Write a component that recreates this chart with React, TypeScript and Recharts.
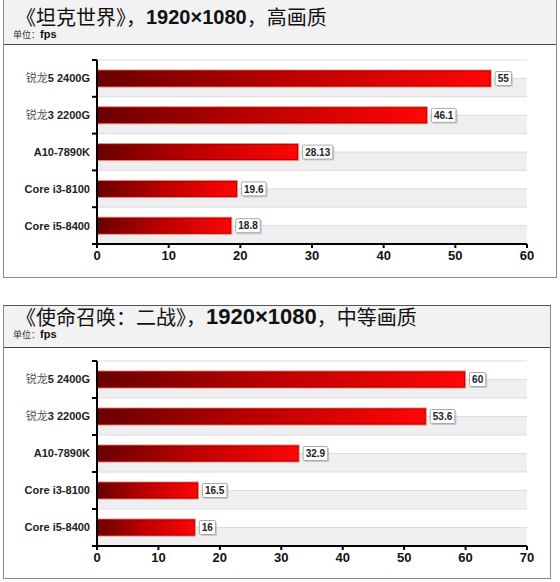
import React from 'react';
import { BarChart, Bar, XAxis, YAxis, CartesianGrid, LabelList } from 'recharts';

const categories = ['锐龙5 2400G', '锐龙3 2200G', 'A10-7890K', 'Core i3-8100', 'Core i5-8400'];
const tankValues = [55, 46.1, 28.13, 19.6, 18.8];
const codValues = [60, 53.6, 32.9, 16.5, 16];
const tankTicks = [0, 10, 20, 30, 40, 50, 60];
const codTicks = [0, 10, 20, 30, 40, 50, 60, 70];
const tankTitle = ['《坦克世界》，', '1920×1080', '，高画质'];
const codTitle = ['《使命召唤：二战》，', '1920×1080', '，中等画质'];
const unitLabel = ['单位：', 'fps'];

const LATIN = '"Liberation Sans", Arial, sans-serif';
const CJK = '"Noto Sans CJK SC", "Noto Sans", sans-serif';

const AXIS_W = 93;

function makeCatTick(axisX: number, band: number, n: number) {
  return (props: any) => {
    const { y, payload } = props;
    const index = props.index ?? payload?.index ?? 0;
    const label: string = String(payload.value);
    const m = label.match(/^([^\x00-\x7F]+)(.*)$/);
    return (
      <g>
        <line x1={axisX - 5} x2={axisX} y1={y - band / 2} y2={y - band / 2} stroke="#000" strokeWidth={2} />
        {index === n - 1 && (
          <line x1={axisX - 5} x2={axisX} y1={y + band / 2} y2={y + band / 2} stroke="#000" strokeWidth={2} />
        )}
        <text x={axisX - 7} y={y} dy="0.36em" textAnchor="end" fontSize={11} fontWeight="bold" fill="#222" fontFamily={LATIN}>
          {m ? (
            <>
              <tspan fontFamily={CJK} fontWeight={400} fill="#555">{m[1]}</tspan>
              <tspan>{m[2]}</tspan>
            </>
          ) : (
            label
          )}
        </text>
      </g>
    );
  };
}

function makeBarShape(chartId: string) {
  return (props: any) => {
    const { x, y, width, height, index } = props;
    const id = `grad-${chartId}-${index}`;
    if (!width || width <= 0) return null;
    return (
      <g>
        <defs>
          <linearGradient id={id} x1="0" y1="0" x2="1" y2="0">
            <stop offset="0%" stopColor="#680000" />
            <stop offset="45%" stopColor="#b80000" />
            <stop offset="100%" stopColor="#ff0606" />
          </linearGradient>
        </defs>
        <rect x={x} y={y} width={width} height={height} fill={`url(#${id})`} stroke="#f08a78" strokeWidth={1} />
        <rect x={x + 1} y={y + 1} width={Math.max(0, width - 2)} height={Math.max(0, height - 2)} fill="none" stroke="#8a0000" strokeWidth={0.8} opacity={0.7} />
      </g>
    );
  };
}

function ValueLabel(props: any) {
  const { x, y, width, height, value } = props;
  const s = String(value);
  const tw = [...s].reduce((a, c) => a + (c === '.' ? 2.8 : 5.6), 0);
  const w = tw + 5;
  const h = 14;
  const bx = x + width + 4;
  const by = y + height / 2 - h / 2;
  return (
    <g>
      <rect x={bx + 1.5} y={by + 1.5} width={w} height={h} fill="#9a9a9a" opacity={0.45} rx={1} />
      <rect x={bx} y={by} width={w} height={h} fill="#fff" stroke="#aaa" strokeWidth={1} rx={1} />
      <text x={bx + w / 2} y={by + h / 2} dy="0.36em" textAnchor="middle" fontSize={10} fontWeight="bold" fill="#222" fontFamily={LATIN}>
        {s}
      </text>
    </g>
  );
}

type PanelProps = {
  id: string;
  values: number[];
  ticks: number[];
  title: string[];
  digitSize: number;
  left: number;
  top: number;
  right: number;
  bottom: number;
  headerBottom: number;
  titleY: number;
  unitY: number;
  marginTop: number;
  xAxisHeight: number;
  showTopBorder: boolean;
};

function Panel(p: PanelProps) {
  const data = categories.map((c, i) => ({ name: c, value: p.values[i] }));
  const chartLeft = p.left + 1;
  const chartTop = p.headerBottom + 1;
  const chartW = p.right - p.left - 1;
  const chartH = p.bottom - p.headerBottom - 1;
  const marginRight = chartLeft + chartW - 527;
  const plotH = chartH - p.marginTop - p.xAxisHeight;
  const band = plotH / categories.length;
  const max = p.ticks[p.ticks.length - 1];

  const gridGen = ({ offset }: any) => {
    const n = categories.length;
    const b = offset.height / n;
    const pts: number[] = [];
    for (let i = 0; i < n; i++) {
      pts.push(offset.top + i * b);
      pts.push(offset.top + i * b + b / 2);
    }
    return pts;
  };

  return (
    <>
      <div
        style={{
          position: 'absolute',
          left: p.left,
          top: p.top,
          width: p.right - p.left,
          height: p.bottom - p.top,
          borderLeft: '1px solid #8a8a8a',
          borderRight: '1px solid #8a8a8a',
          borderBottom: '1px solid #8a8a8a',
          borderTop: p.showTopBorder ? '1px solid #555' : 'none',
          boxSizing: 'border-box',
          background: '#fff',
        }}
      />
      <div
        style={{
          position: 'absolute',
          left: p.left + 1,
          top: p.top + 1,
          width: p.right - p.left - 2,
          height: p.headerBottom - p.top - 1,
          background: '#f2f2f2',
          borderBottom: '1px solid #444',
          boxSizing: 'content-box',
        }}
      />
      <div
        style={{
          position: 'absolute',
          left: p.left + 13,
          top: p.titleY - 10,
          height: 20,
          lineHeight: '20px',
          display: 'flex',
          alignItems: 'center',
          whiteSpace: 'nowrap',
          color: '#111',
        }}
      >
        <span style={{ fontFamily: CJK, fontSize: 20, fontWeight: 400, lineHeight: '20px' }}>{p.title[0]}</span>
        <span style={{ fontFamily: LATIN, fontSize: p.digitSize, fontWeight: 'bold', lineHeight: '20px' }}>{p.title[1]}</span>
        <span style={{ fontFamily: CJK, fontSize: 20, fontWeight: 400, lineHeight: '20px' }}>{p.title[2]}</span>
      </div>
      <div
        style={{
          position: 'absolute',
          left: p.left + 10,
          top: p.unitY - 5,
          height: 11,
          lineHeight: '11px',
          display: 'flex',
          alignItems: 'center',
          whiteSpace: 'nowrap',
          color: '#111',
        }}
      >
        <span style={{ fontFamily: CJK, fontSize: 9, color: '#333', lineHeight: '11px' }}>{unitLabel[0]}</span>
        <span style={{ fontFamily: LATIN, fontSize: 11, fontWeight: 'bold', lineHeight: '11px' }}>{unitLabel[1]}</span>
      </div>
      <div style={{ position: 'absolute', left: chartLeft, top: chartTop }}>
        <BarChart
          width={chartW}
          height={chartH}
          data={data}
          layout="vertical"
          margin={{ top: p.marginTop, right: marginRight, bottom: 0, left: 0 }}
          barSize={17}
        >
          <CartesianGrid
            vertical={false}
            horizontal={true}
            stroke="#dcdce0"
            strokeWidth={1}
            horizontalFill={['#ffffff', '#efeff2']}
            horizontalCoordinatesGenerator={gridGen}
          />
          <XAxis
            type="number"
            domain={[0, max]}
            ticks={p.ticks}
            interval={0}
            height={p.xAxisHeight}
            axisLine={{ stroke: '#000', strokeWidth: 2 }}
            tickLine={{ stroke: '#000', strokeWidth: 2 }}
            tickSize={4}
            tickMargin={3}
            tick={{ fontSize: 13, fontWeight: 'bold', fill: '#111', fontFamily: LATIN }}
            allowDataOverflow
          />
          <YAxis
            type="category"
            dataKey="name"
            width={AXIS_W}
            axisLine={{ stroke: '#000', strokeWidth: 2 }}
            tickLine={false}
            interval={0}
            tick={makeCatTick(AXIS_W, band, categories.length)}
          />
          <Bar dataKey="value" isAnimationActive={false} shape={makeBarShape(p.id)}>
            <LabelList dataKey="value" content={ValueLabel} />
          </Bar>
        </BarChart>
      </div>
    </>
  );
}

export default function App() {
  return (
    <div style={{ position: 'absolute', left: 0, top: 0, width: 560, height: 582, background: '#fff', overflow: 'hidden' }}>
      <Panel
        id="tank"
        values={tankValues}
        ticks={tankTicks}
        title={tankTitle}
        digitSize={20}
        left={3}
        top={-6}
        right={557}
        bottom={278}
        headerBottom={44}
        titleY={17}
        unitY={34}
        marginTop={15}
        xAxisHeight={34}
        showTopBorder={false}
      />
      <Panel
        id="cod"
        values={codValues}
        ticks={codTicks}
        title={codTitle}
        digitSize={22}
        left={3}
        top={305}
        right={551}
        bottom={579}
        headerBottom={347}
        titleY={317}
        unitY={334}
        marginTop={13}
        xAxisHeight={33}
        showTopBorder={true}
      />
    </div>
  );
}
